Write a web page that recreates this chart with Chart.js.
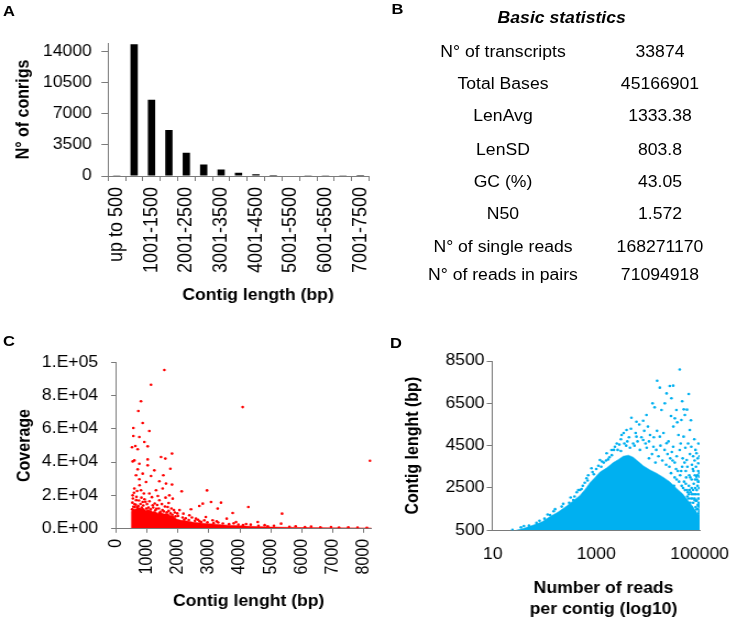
<!DOCTYPE html>
<html lang="en">
<head>
<meta charset="UTF-8">
<title>Contig statistics</title>
<script src="https://cdn.jsdelivr.net/npm/chart.js"></script>
<style>
    body { margin: 0; background: #fff; overflow: hidden; }
    /* the original figure is stretched a bit horizontally */
    #page { position: absolute; left: 0; top: 0; width: 667px; height: 620px;
            transform: scaleX(1.1); transform-origin: 0 0;
            font-family: "Liberation Sans", Arial, sans-serif; color: #000; }
    canvas { position: absolute; }
    .tag { position: absolute; font-weight: bold; font-size: 15px; line-height: 15px; }
    .cell { position: absolute; width: 220px; margin-left: -110px; text-align: center;
            font-size: 16px; line-height: 16px; white-space: nowrap; }
</style>
</head>
<body>
<div id="page">
    <div class="tag" style="left:2.7px;top:3px">A</div>
    <div class="tag" style="left:356px;top:1px">B</div>
    <div class="tag" style="left:2.7px;top:333px">C</div>
    <div class="tag" style="left:354.5px;top:335px">D</div>
    <div id="stats"></div>
    <canvas id="chartA"></canvas>
    <canvas id="chartC"></canvas>
    <canvas id="chartD"></canvas>
</div>
<script>
// ---- A: length distribution
const lengthBins = ['up to 500', '501-1000', '1001-1500', '1501-2000', '2001-2500', '2501-3000',
    '3001-3500', '3501-4000', '4001-4500', '4501-5000', '5001-5500', '5501-6000',
    '6001-6500', '6501-7000', '7001-7500'];
const contigCounts = [15, 14850, 8600, 5190, 2630, 1300, 730, 360, 190, 110, 65, 40, 25, 18, 12];
const countTicks = [0, 3500, 7000, 10500, 14000];

// ---- B: basic statistics
const statNames = ['N° of transcripts', 'Total Bases', 'LenAvg', 'LenSD', 'GC (%)', 'N50',
    'N° of single reads', 'N° of reads in pairs'];
const statValues = ['33874', '45166901', '1333.38', '803.8', '43.05', '1.572', '168271170', '71094918'];

// ---- C: coverage vs contig length
// outline of the solid part of the cloud
const coverageCore = [[490, 0], [495, 10000], [540, 12000], [620, 11200], [700, 13000], [780, 11500],
    [860, 12500], [960, 10800], [1050, 11400], [1150, 9800], [1250, 10300], [1350, 9000], [1450, 9600],
    [1550, 8600], [1650, 9100], [1750, 7800], [1850, 7400], [1950, 5600], [2100, 4800], [2300, 4400],
    [2500, 3600], [2800, 3100], [3000, 2800], [3300, 2300], [3600, 1900], [4000, 1500], [4500, 1100],
    [5000, 800], [5500, 600], [6000, 450], [7000, 300], [8000, 250], [8250, 200]];
const coveragePoints = [[1561, 95600], [1130, 86700], [807, 76700], [721, 70800], [861, 63600],
    [1076, 58800], [560, 60600], [560, 55700], [753, 55100], [915, 52100], [1022, 49500], [517, 48900],
    [624, 49700], [700, 47700], [4090, 73200], [8202, 40800], [1808, 45100], [1453, 43100], [1593, 42100],
    [538, 40400], [592, 41000], [753, 39000], [1022, 41600], [700, 35600], [1022, 38000], [1755, 36000],
    [646, 32000], [861, 33000], [1130, 31600], [1528, 32000], [1238, 35000], [1400, 28400], [753, 29600],
    [1615, 27000], [1808, 26400], [970, 28000], [1292, 23000], [592, 24000], [807, 23000], [1076, 21000],
    [1507, 24000], [2120, 22300], [2939, 22900], [2800, 14900], [3068, 15900], [3391, 15500], [3283, 11900],
    [2420, 11500], [2174, 8850], [2690, 13500], [3767, 9250], [4273, 12900], [5361, 8850], [3574, 5840],
    [4575, 3820], [5330, 2800], [6943, 800], [1830, 17900], [538, 19900], [1722, 19900], [861, 15900],
    [1400, 16900], [700, 12900], [1184, 13900], [1668, 12900], [2368, 7850], [2583, 5840], [2900, 6840],
    [3120, 4830], [3875, 3820], [600, 14500], [650, 17000], [820, 18500], [950, 16000], [1050, 12500],
    [1300, 11800], [1500, 11000], [1700, 10500], [1900, 9500], [1250, 15000], [560, 13000], [900, 21000],
    [1350, 19500], [2000, 7500], [2250, 6000], [2700, 4200], [3300, 3500], [4200, 2600], [4800, 1900],
    [5800, 1200], [6300, 1000], [7500, 600], [2050, 11000], [1600, 18500], [760, 26000],
    [520, 11500], [530, 15500], [545, 18000], [580, 21500], [610, 12800], [640, 14200], [660, 19000],
    [680, 22500], [720, 13400], [740, 16800], [790, 14700], [830, 12600], [880, 13800], [920, 17500],
    [980, 11900], [1000, 14600], [1080, 16300], [1120, 11400], [1160, 18800], [1200, 12600], [1270, 10900],
    [1330, 14100], [1380, 12000], [1430, 9900], [1480, 14600], [1540, 10200], [1580, 13200], [1640, 9700],
    [1700, 15300], [1760, 9000], [1790, 12000], [1820, 8200], [1870, 11000], [1920, 7200], [1980, 9000],
    [2150, 6500], [2200, 5200], [2350, 5000], [2450, 6500], [2550, 4500], [2650, 5200], [2750, 3800],
    [2850, 4800], [2950, 3600], [3150, 3100], [3250, 4200], [3450, 2900], [3650, 2500], [3800, 3000],
    [3950, 2200], [4100, 1900], [4350, 2200], [4600, 1500], [4900, 1200], [5100, 1500], [5600, 900],
    [6100, 700], [6600, 600], [7200, 450], [7800, 400], [8100, 350], [560, 9800], [640, 10800],
    [760, 11600], [1120, 10000], [1400, 9200]];
const coverageTicks = [0, 20000, 40000, 60000, 80000, 100000];
const lengthTicksC = [0, 1000, 2000, 3000, 4000, 5000, 6000, 7000, 8000];

// ---- D: contig length vs reads per contig
const readsCore = [[28, 500], [40, 600], [61, 750], [90, 900], [128, 1150], [180, 1350], [269, 1650],
    [360, 1900], [486, 2150], [620, 2450], [757, 2750], [950, 3000], [1181, 3250], [1600, 3450],
    [2137, 3700], [2700, 3850], [3318, 4000], [4200, 4050], [5195, 3950], [6500, 3750], [8110, 3550],
    [11000, 3350], [14660, 3200], [20000, 3000], [26300, 2800], [35000, 2500], [47800, 2200],
    [60000, 1900], [74800, 1600], [90000, 1300], [100000, 1200]];
const readsPoints = [[41300, 8100], [15100, 7570], [17000, 7240], [26500, 7320], [30800, 7335],
    [61700, 6940], [23000, 6970], [28500, 6740], [12300, 6500], [13500, 6310], [18300, 6185], [21200, 6500],
    [35600, 6185], [49400, 6215], [51800, 5950], [33200, 5790], [44400, 5710], [4800, 5820], [6000, 5630],
    [8100, 5680], [9400, 5950], [10000, 5400], [64600, 5240], [49000, 4925], [69000, 4450], [87000, 4140],
    [94000, 3665], [100000, 3035], [3860, 5240], [3100, 5000], [2300, 4450], [1980, 4295], [1590, 4140],
    [1181, 3820], [810, 3430], [650, 2960], [486, 2405], [360, 1933], [215, 1620], [128, 1225],
    [74800, 2405], [80000, 1933], [87000, 3035], [97000, 1620], [41300, 4295], [56300, 3820], [17000, 4925],
    [23000, 4610], [30800, 4450], [8100, 4770], [6000, 4925], [12800, 4450], [52000, 1500], [58000, 2100],
    [66000, 1800], [72000, 1300], [78000, 900], [84000, 1600], [90000, 1100], [95000, 2200], [99000, 1400],
    [62000, 2600], [70000, 2900], [82000, 2500], [93000, 2800], [99000, 900], [86000, 700], [76000, 3300],
    [55000, 3000], [45000, 2600], [38000, 3300], [33000, 3700], [27000, 3900], [39000, 5000], [60000, 4600],
    [80000, 3800], [40, 700], [70, 850], [100, 1050], [160, 1500], [300, 1800], [420, 2300], [550, 2600],
    [700, 3100], [1000, 3400], [1400, 3700], [1800, 3950], [2600, 4300], [3500, 4600], [4500, 4400],
    [7000, 4300], [10500, 3900], [14000, 3700],
    [32000, 2600], [36000, 2900], [42000, 3100], [46000, 3500], [50000, 2800], [54000, 3300], [57000, 2400],
    [63000, 3100], [67000, 2300], [71000, 3600], [73000, 2000], [77000, 2700], [81000, 3100], [85000, 2200],
    [88000, 1900], [91000, 2600], [94000, 3300], [96000, 1800], [98000, 2500], [100000, 2000], [99000, 3200],
    [92000, 3900], [83000, 4300], [75000, 4000], [65000, 4100], [53000, 4400], [47000, 3900], [43000, 4600],
    [36000, 4000], [29000, 4200], [25000, 4700], [20000, 5100], [15000, 5200], [11000, 5000], [9000, 4600],
    [5500, 4500], [4000, 4700], [2800, 4550], [31000, 5400], [37000, 5600], [28000, 5900], [46000, 6600],
    [57000, 6200], [68000, 5700], [79000, 4800], [95000, 4600], [100000, 4000], [86000, 1200], [93000, 1500],
    [80000, 1400], [69000, 1600], [97000, 1000], [89000, 2900], [61000, 2000], [55000, 1900],
    [24, 520], [35, 640], [50, 720], [80, 950], [115, 1250], [150, 1400], [230, 1750], [320, 2050],
    [450, 2400], [600, 2750], [850, 3250], [1100, 3550], [1300, 3750], [2000, 4050], [3000, 4250], [1700, 3850],
    [2200, 4300], [2500, 4600], [3000, 4800], [3400, 5100], [3800, 4500], [4300, 4900], [4700, 5300],
    [5200, 4600], [5800, 5100], [6300, 4700], [6800, 5500], [7500, 4900], [8500, 5200], [9500, 4400],
    [10500, 4700], [12000, 4100], [13000, 4900], [14500, 4300], [16000, 4000], [17500, 4500], [19000, 3800],
    [21000, 4300], [22500, 3600], [24000, 4100], [26000, 3500], [28000, 3200], [30000, 3800], [33000, 3000],
    [35000, 3400], [40000, 2800], [44000, 3300], [48000, 2500], [51000, 3700], [54000, 2700], [58000, 3500],
    [62000, 2200], [66000, 3000], [70000, 2500], [74000, 3400], [78000, 2200], [82000, 2900], [85000, 3500],
    [88000, 2400], [91000, 3100], [94000, 2000], [97000, 2800], [100000, 2500], [100000, 1700], [99000, 1200],
    [96000, 1300], [92000, 1700], [88000, 1500], [84000, 1900], [80000, 2000], [75000, 1800], [71000, 2200],
    [68000, 2000], [64000, 2400], [59000, 2300], [52000, 2400], [380, 2100], [520, 2450], [680, 2850],
    [900, 3150], [1250, 3500], [1550, 3800]];
const readsTicks = [10, 1000, 100000];
const lengthTicksD = [500, 2500, 4500, 6500, 8500];

// layout (page coords are image px / 1.1)
const S = 1.1;
const rowY = [51.7, 83.7, 115.7, 150, 181.7, 213.3, 246.7, 275];
const gray = '#7a7a7a';
const red = '#ff0000';
const blue = '#00b0f0';

Chart.defaults.font.family = '"Liberation Sans", Arial, sans-serif';
Chart.defaults.font.size = 16;
Chart.defaults.color = '#000';
Chart.defaults.animation = false;
Chart.defaults.responsive = false;
Chart.defaults.plugins.legend.display = false;
Chart.defaults.plugins.tooltip.enabled = false;

function place(id, left, top, w, h) {
    const c = document.getElementById(id);
    c.width = w; c.height = h;
    c.style.left = left + 'px'; c.style.top = top + 'px';
    return c;
}
const pts = arr => arr.map(p => ({x: p[0], y: p[1]}));
const fixTicks = list => s => { s.ticks = list.map(v => ({value: v})); };
const border = {color: gray, width: 1};
const marks = len => ({drawOnChartArea: false, color: gray, tickLength: len});
const sci = v => {
    if (v === 0) return '0.E+00';
    const e = Math.floor(Math.log10(v));
    return Math.round(v / Math.pow(10, e)) + '.E+' + String(e).padStart(2, '0');
};

// table B
const stats = document.getElementById('stats');
function cell(text, x, y, extra) {
    const d = document.createElement('div');
    d.className = 'cell';
    d.style.left = (x / S) + 'px';
    d.style.top = (y - 7.8) + 'px';
    if (extra) d.style.cssText += extra;
    d.textContent = text;
    stats.appendChild(d);
}
cell('Basic statistics', 561.7, 17.5, 'font-weight:bold;font-style:italic;');
statNames.forEach((n, i) => {
    cell(n, 503, rowY[i]);
    cell(statValues[i], 660, rowY[i]);
});

// chart A
const aWidth = 357;
new Chart(place('chartA', 0, 0, aWidth, 310), {
    type: 'bar',
    data: {
        labels: lengthBins,
        datasets: [{data: contigCounts, backgroundColor: '#000', barPercentage: 0.42, categoryPercentage: 1}]
    },
    options: {
        layout: {padding: {top: 43, right: aWidth - 369 / S, left: 0, bottom: 0}},
        scales: {
            x: {
                grid: {...marks(5), offset: true},
                border: border,
                ticks: {autoSkip: false, minRotation: 90, maxRotation: 90, padding: 6, font: {size: 18},
                    callback: (v, i) => i % 2 ? '' : lengthBins[i]},
                title: {display: true, text: '        Contig length (bp)', font: {weight: 'bold'},
                    padding: {top: 0, bottom: 4.4}},
                afterFit: s => { s.height = 134; }
            },
            y: {
                min: 0, max: 15000,
                afterBuildTicks: fixTicks(countTicks),
                grid: marks(6),
                border: border,
                ticks: {padding: 8.7, callback: v => String(v)},
                title: {display: true, text: 'N° of conrigs', font: {weight: 'bold'}, padding: {top: 12.2, bottom: 0}},
                afterFit: s => { s.width = 108 / S; }
            }
        }
    }
});

// chart C
const cWidth = 359;
new Chart(place('chartC', 0, 330, cWidth, 290), {
    type: 'scatter',
    data: {
        datasets: [
            {type: 'line', data: pts(coverageCore), fill: 'origin', backgroundColor: red, borderColor: red,
                borderWidth: 0.5, pointRadius: 0, tension: 0},
            {data: pts(coveragePoints), backgroundColor: red, borderWidth: 0, pointRadius: 1.3}
        ]
    },
    options: {
        layout: {padding: {top: 32.7, right: cWidth - 371.5 / S, left: 0, bottom: 0}},
        scales: {
            x: {
                type: 'linear', min: 0, max: 8250,
                afterBuildTicks: fixTicks(lengthTicksC),
                grid: marks(4.5),
                border: border,
                ticks: {autoSkip: false, minRotation: 90, maxRotation: 90, padding: 6, callback: v => String(v)},
                title: {display: true, text: '  Contig lenght (bp)', font: {weight: 'bold'},
                    padding: {top: 0, bottom: 8.4}},
                afterFit: s => { s.height = 91.7; }
            },
            y: {
                min: 0, max: 100000,
                afterBuildTicks: fixTicks(coverageTicks),
                grid: marks(4.5),
                border: border,
                ticks: {padding: 11.7, callback: v => sci(v)},
                title: {display: true, text: 'Coverage', font: {weight: 'bold'}, padding: {top: 13.1, bottom: 0}},
                afterFit: s => { s.width = 116 / S; }
            }
        }
    }
});

// chart D
const dLeft = 375 / S, dWidth = (733 - 375) / S + 9;
new Chart(place('chartD', dLeft, 330, dWidth, 290), {
    type: 'scatter',
    data: {
        datasets: [
            {type: 'line', data: pts(readsCore), fill: 'start', backgroundColor: blue, borderColor: blue,
                borderWidth: 0.5, pointRadius: 0, tension: 0},
            {data: pts(readsPoints), backgroundColor: blue, borderWidth: 0, pointRadius: 1.3}
        ]
    },
    options: {
        layout: {padding: {top: 31, right: dWidth - (700 - 375) / S, left: 0, bottom: 0}},
        scales: {
            x: {
                type: 'logarithmic', min: 10, max: 100000,
                afterBuildTicks: fixTicks(readsTicks),
                grid: {display: false},
                border: border,
                ticks: {autoSkip: false, maxRotation: 0, padding: 7, callback: v => String(v)},
                title: {display: true, text: ['   Number of reads', '   per contig (log10)'],
                    font: {weight: 'bold', lineHeight: 1.3}, padding: {top: 0, bottom: 0}},
                afterFit: s => { s.height = 89.7; }
            },
            y: {
                min: 500, max: 8500,
                afterBuildTicks: fixTicks(lengthTicksD),
                grid: marks(5.5),
                border: border,
                ticks: {padding: 2, callback: v => String(v)},
                title: {display: true, text: 'Contig lenght (bp)', font: {weight: 'bold'},
                    padding: {top: 24.9, bottom: 0}},
                afterFit: s => { s.width = (492.7 - 375) / S; }
            }
        }
    }
});
</script>
</body>
</html>
